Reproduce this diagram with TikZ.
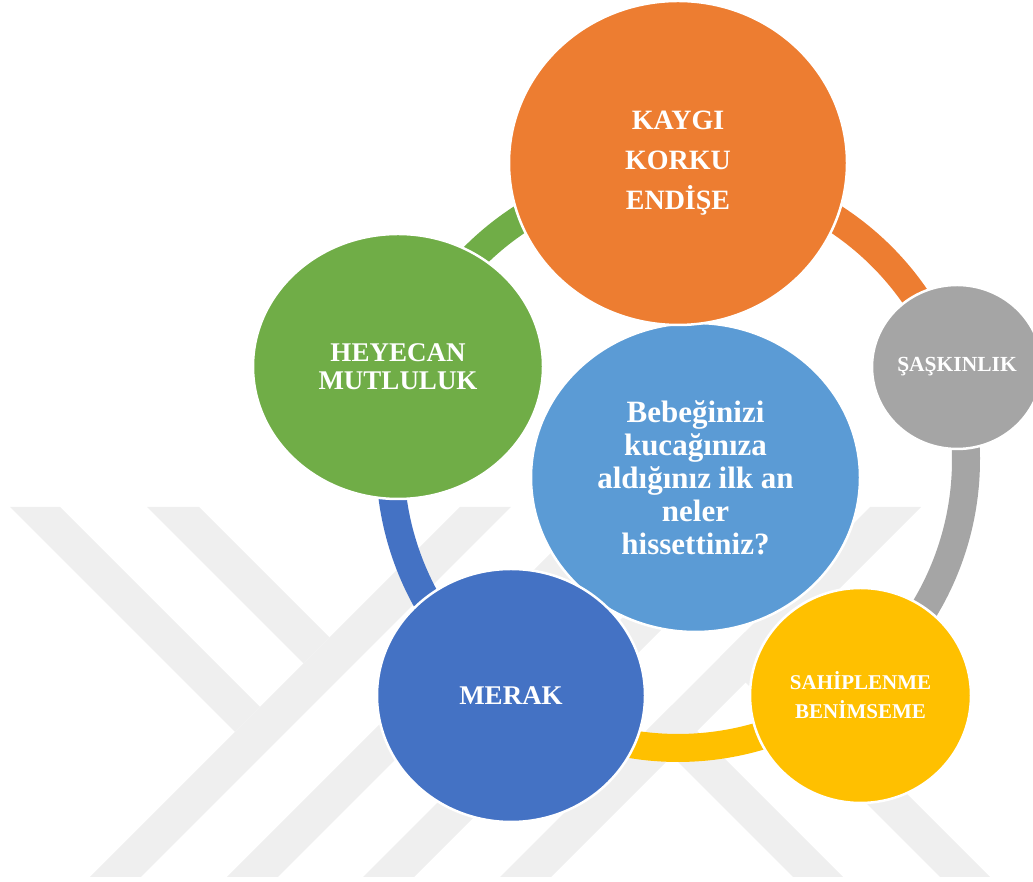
\documentclass[tikz,border=0pt]{standalone}
\usepackage{fontspec}
\setmainfont{Liberation Serif}
\usepackage{tikz}
\usetikzlibrary{calc,shapes.geometric}
\definecolor{mitteblau}{HTML}{5B9BD5}
\definecolor{orangeK}{HTML}{ED7D31}
\definecolor{grauK}{HTML}{A5A5A5}
\definecolor{gelbK}{HTML}{FFC000}
\definecolor{blauK}{HTML}{4472C4}
\definecolor{gruenK}{HTML}{70AD47}
\definecolor{wzgrau}{HTML}{EFEFEF}
\tikzset{kreis/.style={ellipse,draw=white,line width=2.5pt,text=white,align=center,inner sep=0pt}}

\begin{document}
\begin{tikzpicture}[x=1pt,y=1pt]
\useasboundingbox (0,0) rectangle (1033,882);
%Ring um die Mitte, Radius und Breite der Boegen in px
  \pgfmathsetmacro{\rR}{288}
  \pgfmathsetmacro{\bB}{28}
%Wasserzeichen: vier Streifen "/" und vier Streifen "\"
\foreach \s in {967,1104,1240,1377}{
\fill[wzgrau] ({\s-507},375) -- ({\s+51-507},375) -- ({\s+51-877},5) -- ({\s-877},5) -- cycle;
}
\fill[wzgrau] (10,375) -- (60,375) -- (260,175) -- (235,150) -- cycle;
\fill[wzgrau] (147,375) -- (199,375) -- (329.5,244.5) -- (303.5,218.5) -- cycle;
\fill[wzgrau] (793,5) -- (843,5) -- (671.5,176.5) -- (646.5,151.5) -- cycle;
\fill[wzgrau] (940,5) -- (990,5) -- (745,250) -- (720,225) -- cycle;
%Boegen, Farbe jeweils vom Kreis, bei dem der Bogen anfaengt
\coordinate (ring) at (678,422);
\foreach \von/\bis/\farbe in {161.5/90/gruenK,90/18.4/orangeK,18.4/-52.2/grauK,-52.2/-125.3/gelbK,-125.3/-198.5/blauK}{
\draw[\farbe,line width=\bB pt] ($(ring)+(\von:\rR)$) arc[start angle=\von,end angle=\bis,radius=\rR];
}
\node[kreis,fill=mitteblau,minimum width=329,minimum height=309,font=\bfseries\fontsize{31}{33}\selectfont] (mitte) at (695.5,404.5) {Bebeğinizi\\kucağınıza\\aldığınız ilk an\\neler\\hissettiniz?};
\node[kreis,fill=orangeK,minimum width=338,minimum height=324,font=\bfseries\fontsize{28}{40}\selectfont] (kaygi) at (678,719) {KAYGI\\KORKU\\ENDİŞE};
\node[kreis,fill=grauK,minimum width=170,minimum height=164,font=\bfseries\fontsize{21.5}{24}\selectfont] (saskinlik) at (957,515) {ŞAŞKINLIK};
\node[kreis,fill=gelbK,minimum width=221,minimum height=215,font=\bfseries\fontsize{21}{29}\selectfont] (sahiplenme) at (860.5,186.5) {SAHİPLENME\\BENİMSEME};
\node[kreis,fill=blauK,minimum width=268,minimum height=253,font=\bfseries\fontsize{27}{30}\selectfont] (merak) at (511,186.5) {MERAK};
\node[kreis,fill=gruenK,minimum width=290,minimum height=265,font=\bfseries\fontsize{27}{28}\selectfont] (heyecan) at (398,515.5) {HEYECAN\\MUTLULUK};
\end{tikzpicture}
\end{document}
